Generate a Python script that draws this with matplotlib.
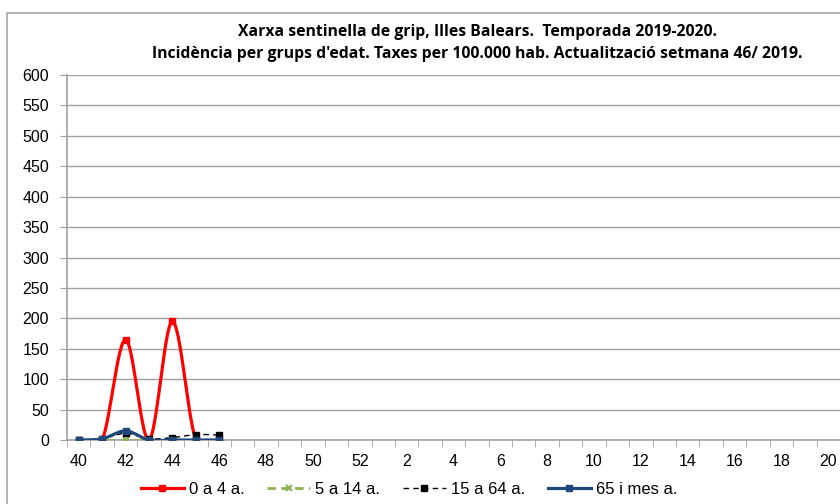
import matplotlib.pyplot as plt
import numpy as np
from matplotlib.patches import Rectangle
from matplotlib.lines import Line2D

weeks = list(range(40, 53)) + list(range(1, 21))
wk_data = [40, 41, 42, 43, 44, 45, 46]
edat_0_4 = [0, 0, 165, 0, 195, 0, 0]
edat_5_14 = [0, 0, 0, 0, 0, 0, 0]
edat_15_64 = [0, 2, 11, 2, 4, 9, 8]
edat_65 = [0, 2, 15, 0, 0, 0, 0]

title = ("Xarxa sentinella de grip, Illes Balears.  Temporada 2019-2020.\n"
         "Incidència per grups d'edat. Taxes per 100.000 hab. Actualització setmana 46/ 2019.")


def smooth(xs, ys, n=30):
    # excel-like smoothed line (catmull-rom bezier)
    xs = np.asarray(xs, float)
    ys = np.asarray(ys, float)
    px, py = [], []
    m = len(xs)
    for i in range(m - 1):
        x0, y0 = xs[max(i - 1, 0)], ys[max(i - 1, 0)]
        x1, y1 = xs[i], ys[i]
        x2, y2 = xs[i + 1], ys[i + 1]
        x3, y3 = xs[min(i + 2, m - 1)], ys[min(i + 2, m - 1)]
        c1x, c1y = x1 + (x2 - x0) / 6, y1 + (y2 - y0) / 6
        c2x, c2y = x2 - (x3 - x1) / 6, y2 - (y3 - y1) / 6
        t = np.linspace(0, 1, n)
        a, b, c, d = (1 - t) ** 3, 3 * (1 - t) ** 2 * t, 3 * (1 - t) * t ** 2, t ** 3
        px.extend(a * x1 + b * c1x + c * c2x + d * x2)
        py.extend(a * y1 + b * c1y + c * c2y + d * y2)
    return np.array(px), np.array(py)


plt.rcParams['font.family'] = ['Liberation Sans', 'DejaVu Sans']

fig = plt.figure(figsize=(8.4, 5.04), dpi=100)
fig.patches.append(Rectangle((7 / 840, -0.1), 1.2, (504 - 13) / 504 + 0.1,
                             transform=fig.transFigure, fill=False,
                             edgecolor='#a6a6a6', lw=1.2))
ax = fig.add_axes([67 / 840, 64 / 504, 773 / 840, 365 / 504])

pos = [weeks.index(w) for w in wk_data]

series = [
    (edat_0_4, '0 a 4 a.', dict(color='#ff0000', lw=2.3, ls='-'), dict(marker='s', ms=4, mfc='#ff0000', mec='#ff0000')),
    (edat_5_14, '5 a 14 a.', dict(color='#8db050', lw=2, ls=(0, (3, 2))), dict(marker='x', ms=5, mec='#8db050', mew=1.5)),
    (edat_15_64, '15 a 64 a.', dict(color='black', lw=1, ls=(0, (4, 3))), dict(marker='s', ms=5, mfc='black', mec='black')),
    (edat_65, '65 i mes a.', dict(color='#1f497d', lw=2.3, ls='-'), dict(marker='s', ms=5, mfc='#1f497d', mec='#1f497d')),
]

handles = []
for vals, lab, lstyle, mstyle in series:
    sx, sy = smooth(pos, vals)
    ax.plot(sx, sy, zorder=3, **lstyle)
    ax.plot(pos, vals, ls='none', zorder=4, **mstyle)
    handles.append(Line2D([], [], label=lab, **lstyle, **mstyle))

ax.set_xlim(-0.5, len(weeks) - 0.5)
ax.set_ylim(0, 600)
ax.set_yticks(range(0, 601, 50))
ax.set_xticks(range(0, len(weeks), 2))
ax.set_xticklabels([str(w) for w in weeks[::2]])
ax.set_xticks(np.arange(-0.5, len(weeks), 1), minor=True)
ax.tick_params(axis='x', which='major', length=0, pad=10, labelsize=11.5)
ax.tick_params(axis='x', which='minor', length=5, color='#a0a0a0', direction='out')
ax.tick_params(axis='y', length=5, color='#a0a0a0', labelsize=11.5, pad=8)
ax.grid(axis='y', color='#a0a0a0', lw=1)
ax.set_axisbelow(True)
for s in ['top', 'right']:
    ax.spines[s].set_visible(False)
for s in ['left', 'bottom']:
    ax.spines[s].set_color('#a0a0a0')
    ax.spines[s].set_linewidth(1.2)
ax.patch.set_alpha(0)

fig.text(477 / 840, 1 - 43 / 504, title, ha='center', va='center', fontsize=11.3,
         fontweight='bold', family=['Liberation Sans Narrow', 'Open Sans', 'DejaVu Sans'],
         linespacing=1.45)

fig.legend(handles=handles, loc='center', bbox_to_anchor=(409 / 840, 1 - 489 / 504),
           ncol=4, frameon=False, fontsize=12, handlelength=2.6, columnspacing=1.35,
           handletextpad=0.3)

fig.savefig('out.png', dpi=100)
